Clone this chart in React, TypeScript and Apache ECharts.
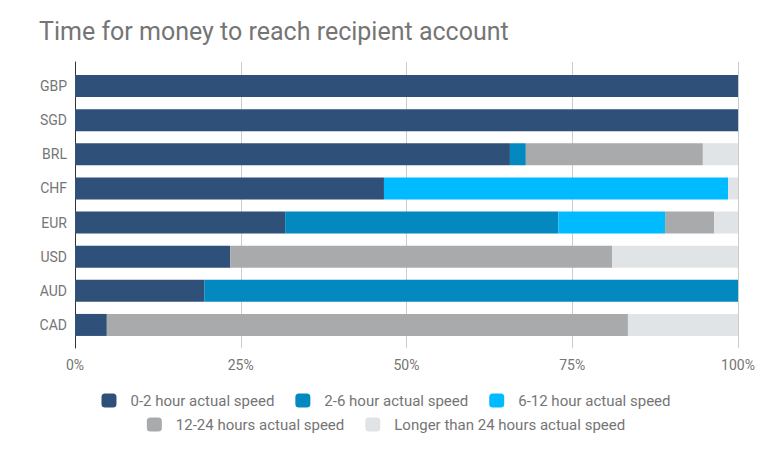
import React, { useEffect, useRef } from "react";
import * as echarts from "echarts";

const categories = ["GBP", "SGD", "BRL", "CHF", "EUR", "USD", "AUD", "CAD"];
const seriesNames = [
  "0-2 hour actual speed",
  "2-6 hour actual speed",
  "6-12 hour actual speed",
  "12-24 hours actual speed",
  "Longer than 24 hours actual speed",
];
const s0to2 = [100, 100, 65.6, 46.6, 31.7, 23.4, 19.5, 4.8];
const s2to6 = [0, 0, 2.4, 0, 41.2, 0, 80.5, 0];
const s6to12 = [0, 0, 0, 51.9, 16.1, 0, 0, 0];
const s12to24 = [0, 0, 26.7, 0, 7.4, 57.6, 0, 78.6];
const sLonger = [0, 0, 5.3, 1.5, 3.6, 19.0, 0, 16.6];
const colors = ["#2f5179", "#0389bf", "#00bbff", "#a9aaab", "#e0e4e6"];
const xTicks = [0, 25, 50, 75, 100];

export default function App() {
  const ref = useRef<HTMLDivElement>(null);
  useEffect(() => {
    if (!ref.current) return;
    const chart = echarts.init(ref.current, null, { renderer: "svg" });
    const values = [s0to2, s2to6, s6to12, s12to24, sLonger];
    const font = "Roboto";
    const legendBase = {
      left: "center",
      itemWidth: 15,
      itemHeight: 14,
      itemGap: 21,
      icon: "roundRect",
      textStyle: { fontSize: 15, color: "#757575", fontFamily: font, padding: [0, 0, 0, 9] },
    };
    chart.setOption({
      animation: false,
      textStyle: { fontFamily: font },
      title: {
        text: "Time for money to reach recipient account",
        left: 34,
        top: 14,
        textStyle: { fontSize: 25, fontWeight: "normal", color: "#757575", fontFamily: font },
      },
      legend: [
        { ...legendBase, data: seriesNames.slice(0, 3), top: 388 },
        { ...legendBase, data: seriesNames.slice(3), top: 412 },
      ],
      grid: [
        { left: 75, right: 34, top: 69, height: 273, containLabel: false },
        { left: 75, right: 34, top: 62, height: 286, containLabel: false },
      ],
      xAxis: [
        {
          type: "value",
          gridIndex: 0,
          min: 0,
          max: 100,
          show: false,
        },
        {
          type: "value",
          gridIndex: 1,
          min: xTicks[0],
          max: xTicks[xTicks.length - 1],
          interval: 25,
          axisLine: { show: false },
          axisTick: { show: false },
          splitLine: { show: true, lineStyle: { color: "#cccccc", width: 1 } },
          axisLabel: {
            formatter: "{value}%",
            color: "#757575",
            fontSize: 14,
            margin: 10,
            fontFamily: font,
          },
        },
      ],
      yAxis: [
        {
          type: "category",
          gridIndex: 0,
          data: categories,
          inverse: true,
          axisLine: { show: false },
          axisTick: { show: false },
          splitLine: { show: false },
          axisLabel: { color: "#757575", fontSize: 14, margin: 8, fontFamily: font },
        },
        {
          type: "value",
          gridIndex: 1,
          min: 0,
          max: 1,
          axisLine: { show: true, lineStyle: { color: "#333333", width: 1 } },
          axisTick: { show: false },
          axisLabel: { show: false },
          splitLine: { show: false },
        },
      ],
      series: seriesNames.map((name, i) => ({
        name,
        type: "bar",
        stack: "total",
        xAxisIndex: 0,
        yAxisIndex: 0,
        barWidth: 22,
        z: 3,
        itemStyle: { color: colors[i] },
        data: values[i],
      })),
    });
    return () => chart.dispose();
  }, []);
  return (
    <div
      ref={ref}
      style={{ position: "fixed", left: 0, top: 0, width: 772, height: 459, background: "#fff" }}
    />
  );
}
